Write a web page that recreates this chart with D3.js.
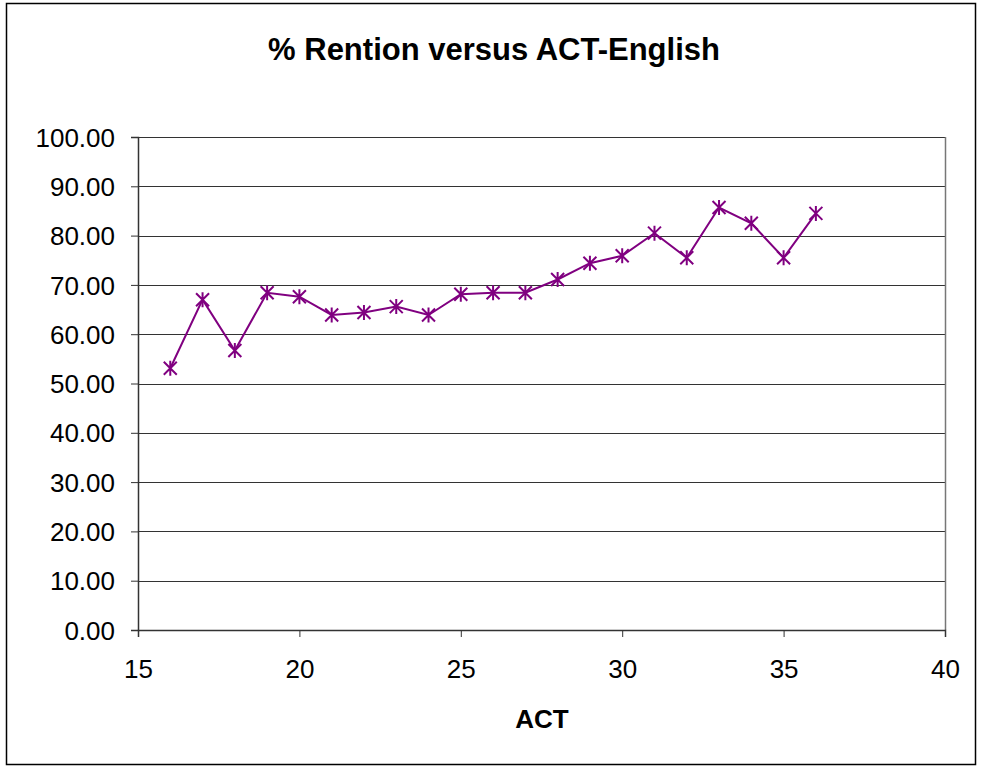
<!DOCTYPE html>
<html>
<head>
<meta charset="utf-8">
<script src="https://cdn.jsdelivr.net/npm/d3@7"></script>
<style>
  body { margin: 0; background: #fff; }
  text { font-family: "Liberation Sans", Arial, sans-serif; }
</style>
</head>
<body>
<div id="chart"></div>
<script>
// data
var actScores = [16, 17, 18, 19, 20, 21, 22, 23, 24, 25, 26, 27, 28, 29, 30, 31, 32, 33, 34, 35, 36];
var retention = [53.1, 67.0, 56.7, 68.4, 67.6, 63.9, 64.4, 65.6, 63.9, 68.1, 68.4, 68.4, 71.1, 74.4, 75.9, 80.5, 75.5, 85.7, 82.5, 75.5, 84.5];
var xTicks = [15, 20, 25, 30, 35, 40];
var yTicks = [0, 10, 20, 30, 40, 50, 60, 70, 80, 90, 100];

var W = 981, H = 767;
var margin = { top: 137, right: 36, bottom: 137, left: 138 },
    width = W - margin.left - margin.right,
    height = H - margin.top - margin.bottom;

var svg = d3.select("#chart").append("svg")
    .attr("width", W)
    .attr("height", H);

// outer chart border
svg.append("rect")
    .attr("x", 6.5).attr("y", 3.5)
    .attr("width", 969).attr("height", 761)
    .attr("fill", "none").attr("stroke", "#000").attr("stroke-width", 1.5);

// title
svg.append("text")
    .attr("x", 494).attr("y", 60)
    .attr("text-anchor", "middle")
    .style("font-size", "31px").style("font-weight", "bold")
    .text("% Rention versus ACT-English");

var g = svg.append("g")
    .attr("transform", "translate(" + margin.left + "," + margin.top + ")");

var x = d3.scaleLinear().domain([15, 40]).range([0, width]);
var y = d3.scaleLinear().domain([0, 100]).range([height, 0]);

// gridlines
g.append("g").selectAll("line")
    .data(yTicks)
    .enter().append("line")
    .attr("x1", 0).attr("x2", width)
    .attr("y1", function (d) { return Math.round(y(d)) + 0.5; })
    .attr("y2", function (d) { return Math.round(y(d)) + 0.5; })
    .attr("stroke", "#333").attr("stroke-width", 1);

// plot area right border
g.append("line")
    .attr("x1", width + 0.5).attr("x2", width + 0.5)
    .attr("y1", 0).attr("y2", height)
    .attr("stroke", "#777").attr("stroke-width", 1.5);

// axes
var xAxis = g.append("g")
    .attr("transform", "translate(0," + height + ")")
    .call(d3.axisBottom(x).tickValues(xTicks).tickSize(7).tickPadding(10));

var yAxis = g.append("g")
    .call(d3.axisLeft(y).tickValues(yTicks).tickSize(7).tickPadding(16)
        .tickFormat(d3.format(".2f")));

[xAxis, yAxis].forEach(function (a) {
    a.selectAll("path").attr("stroke", "#333").attr("stroke-width", 1.5);
    a.selectAll("line").attr("stroke", "#333");
    a.selectAll("text").style("font-size", "26px").attr("fill", "#000");
});
yAxis.selectAll("text").attr("dy", "0.35em");
xAxis.selectAll("text").attr("dy", "1.2em");

// x axis label
svg.append("text")
    .attr("x", 542).attr("y", 728)
    .attr("text-anchor", "middle")
    .style("font-size", "26px").style("font-weight", "bold")
    .text("ACT");

// line
var pts = actScores.map(function (d, i) { return [d, retention[i]]; });
var line = d3.line()
    .x(function (d) { return x(d[0]); })
    .y(function (d) { return y(d[1]); });

g.append("path")
    .datum(pts)
    .attr("d", line)
    .attr("fill", "none")
    .attr("stroke", "#800080")
    .attr("stroke-width", 2);

// asterisk markers
var s = 6.5;
g.selectAll(".mark")
    .data(pts)
    .enter().append("path")
    .attr("class", "mark")
    .attr("transform", function (d) { return "translate(" + x(d[0]) + "," + y(d[1]) + ")"; })
    .attr("d", "M" + (-s) + "," + (-s) + "L" + s + "," + s +
               "M" + (-s) + "," + s + "L" + s + "," + (-s) +
               "M0," + (-s - 1) + "L0," + (s + 1))
    .attr("fill", "none")
    .attr("stroke", "#800080")
    .attr("stroke-width", 2);
</script>
</body>
</html>
